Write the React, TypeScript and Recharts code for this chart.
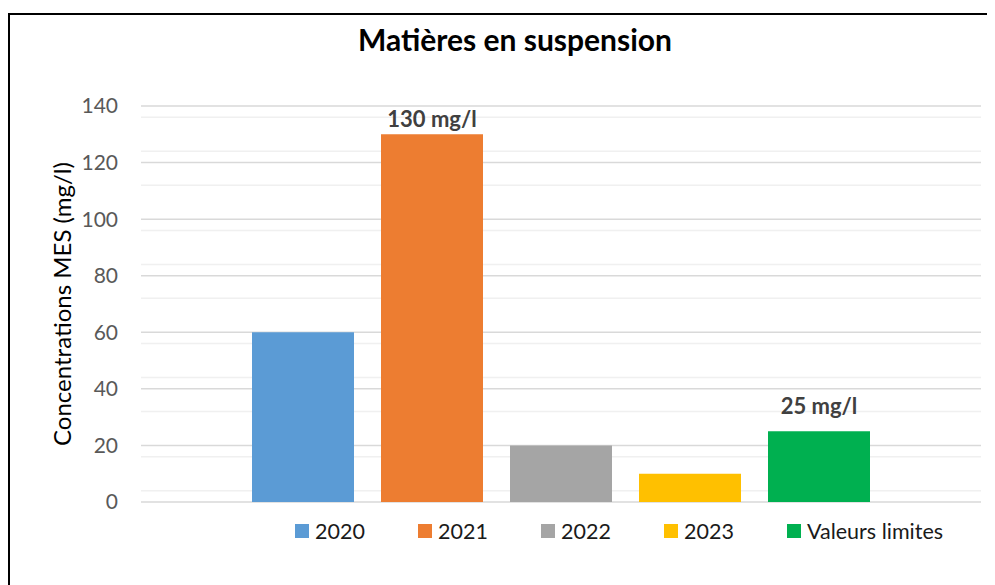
import React from "react";
import { BarChart, Bar, XAxis, YAxis, CartesianGrid, Legend, LabelList } from "recharts";

const categories = ["MES"];
const seriesNames = ["2020", "2021", "2022", "2023", "Valeurs limites"];
const seriesValues = [60, 130, 20, 10, 25];
const seriesColors = ["#5B9BD5", "#ED7D31", "#A5A5A5", "#FFC000", "#00B050"];
const labelledSeries = ["2021", "Valeurs limites"];
const yTicks = [0, 20, 40, 60, 80, 100, 120, 140];
const minorTicks = [4, 8, 12, 16, 24, 28, 32, 36, 44, 48, 52, 56, 64, 68, 72, 76, 84, 88, 92, 96, 104, 108, 112, 116, 124, 128, 132, 136];

const labelOffsets: Record<string, number> = { "2021": 7, "Valeurs limites": 17 };

const data = categories.map((c) => {
  const row: Record<string, string | number> = { cat: c };
  seriesNames.forEach((n, i) => {
    row[n] = seriesValues[i];
  });
  return row;
});

const FONT = "Lato, 'Open Sans', sans-serif";

const LegendContent = (props: any) => {
  const payload = props.payload || [];
  return (
    <div style={{ display: "flex", justifyContent: "flex-start", paddingLeft: 287, fontFamily: FONT }}>
      {payload.map((p: any) => (
        <div
          key={p.value}
          style={{ width: 123, flexShrink: 0, display: "flex", alignItems: "center", whiteSpace: "nowrap" }}
        >
          <span
            style={{ display: "inline-block", flexShrink: 0, width: 14, height: 14, background: p.color, marginRight: 6 }}
          />
          <span style={{ fontSize: 21.5, color: "#1a1a1a", lineHeight: "26px" }}>{p.value}</span>
        </div>
      ))}
    </div>
  );
};

export default function App() {
  return (
    <div style={{ position: "relative", width: 987, height: 577, overflow: "hidden", background: "#fff" }}>
      <div
        style={{
          position: "absolute",
          left: 0,
          top: 5,
          width: 1100,
          height: 700,
          border: "2px solid #000",
          boxSizing: "border-box",
        }}
      />
      <div
        style={{
          position: "absolute",
          left: 0,
          right: 0,
          top: 13,
          textAlign: "center",
          fontFamily: FONT,
          fontWeight: 700,
          fontSize: 30,
          color: "#000",
          paddingLeft: 27,
        }}
      >
        Matières en suspension
      </div>
      <div style={{ position: "absolute", left: 0, top: 0 }}>
        <BarChart
          width={987}
          height={577}
          data={data}
          margin={{ top: 98, right: 14, bottom: 57, left: 73 }}
          barCategoryGap={112}
          barGap={27}
        >
          <CartesianGrid vertical={false} horizontalValues={minorTicks} stroke="#F0F0F0" strokeWidth={1.5} />
          <CartesianGrid vertical={false} horizontalValues={yTicks} stroke="#D9D9D9" strokeWidth={1.5} />
          <XAxis dataKey="cat" hide />
          <YAxis
            width={60}
            domain={[0, 140]}
            ticks={yTicks}
            axisLine={false}
            tickLine={false}
            tickSize={0}
            tickMargin={23}
            tick={{ fill: "#595959", fontSize: 21, fontFamily: FONT }}
            label={{
              value: "Concentrations MES (mg/l)",
              angle: -90,
              position: "center",
              dx: -49,
              style: { fill: "#000", fontSize: 24, fontFamily: FONT, textAnchor: "middle" },
            }}
          />
          <Legend
            verticalAlign="bottom"
            content={<LegendContent />}
            wrapperStyle={{ left: 0, width: 987, top: 510, bottom: "auto" }}
          />
          {seriesNames.map((n, i) => (
            <Bar key={n} dataKey={n} name={n} fill={seriesColors[i]} barSize={102} isAnimationActive={false}>
              {labelledSeries.includes(n) ? (
                <LabelList
                  dataKey={n}
                  position="top"
                  offset={labelOffsets[n]}
                  formatter={(v: any) => `${v} mg/l`}
                  style={{ fill: "#404040", fontWeight: 700, fontSize: 22, fontFamily: FONT }}
                />
              ) : null}
            </Bar>
          ))}
        </BarChart>
      </div>
    </div>
  );
}
